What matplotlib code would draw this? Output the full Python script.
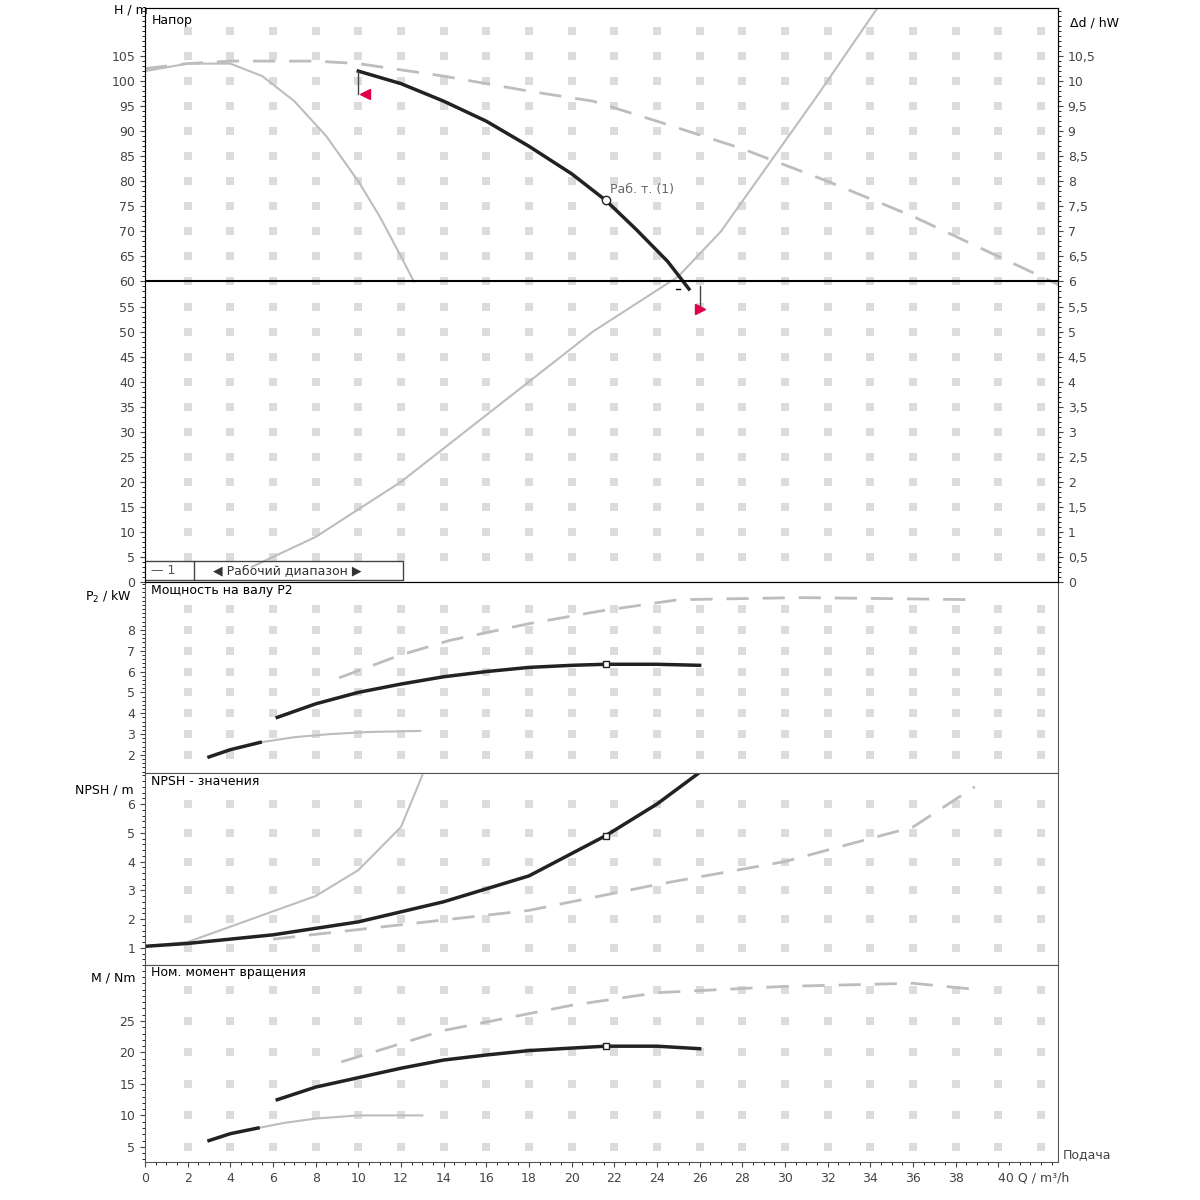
import matplotlib.pyplot as plt
from matplotlib.ticker import MultipleLocator
import numpy as np

# --- data (Q in m3/h) ---
q_head = [10, 12, 14, 16, 18, 20, 21.6, 23, 24.5, 25.5]
h_head = [102, 99.5, 96, 92, 87, 81.5, 76.2, 70.5, 64, 58.5]
q_head_max = [0, 2, 4, 6, 8, 10, 14, 18, 21, 24, 28, 32, 36, 40, 43]
h_head_max = [102.5, 103.5, 104, 104, 104, 103.5, 101, 98, 96, 92, 86.5, 80, 73, 65, 59]
q_head_min = [0, 2, 4, 5.5, 7, 8.5, 10, 11, 12, 12.6]
h_head_min = [102, 103.5, 103.5, 101, 96, 89, 80, 73, 65, 60]
q_sys = [5, 8, 12, 15, 18, 21, 23, 25, 27, 29, 31.5, 34.4]
h_sys = [3, 9, 20, 30, 40, 50, 55.5, 61, 70, 82, 97, 115]
h_line = 60
q_op, h_op = 21.6, 76.2

q_p2 = [6.2, 8, 10, 12, 14, 16, 18, 20, 21.6, 24, 26]
p2 = [3.8, 4.45, 5.0, 5.4, 5.75, 6.0, 6.2, 6.3, 6.35, 6.35, 6.3]
q_p2_max = [9.1, 12, 14.3, 18, 21.3, 25, 30.7, 35, 38.9]
p2_max = [5.7, 6.8, 7.5, 8.3, 8.9, 9.45, 9.55, 9.5, 9.45]
q_p2_min = [3, 4, 5.4, 7, 8.7, 10.5, 12.9]
p2_min = [1.9, 2.25, 2.6, 2.85, 3.0, 3.1, 3.15]

q_npsh = [0, 2, 6, 10, 14, 18, 21.6, 24, 26]
npsh = [1.05, 1.15, 1.45, 1.9, 2.6, 3.5, 4.9, 6.0, 7.1]
q_npsh_max = [6, 12, 18, 24, 30, 34, 36, 38.9]
npsh_max = [1.3, 1.8, 2.3, 3.2, 4.0, 4.8, 5.2, 6.6]
q_npsh_min = [0, 2, 5, 8, 10, 12, 13]
npsh_min = [1.05, 1.2, 2.0, 2.8, 3.7, 5.2, 7.0]

q_m = [6.2, 8, 10, 12, 14, 16, 18, 20, 21.6, 24, 26]
m = [12.5, 14.5, 16, 17.5, 18.8, 19.6, 20.3, 20.7, 21, 21, 20.6]
q_m_max = [9.2, 14, 20, 24, 30, 36, 39]
m_max = [18.5, 23.5, 27.5, 29.5, 30.5, 31, 30]
q_m_min = [3, 4, 5.3, 6.5, 8, 10, 13]
m_min = [6, 7.1, 8, 8.8, 9.5, 10, 10]

x_ticks = list(range(0, 42, 2))
x_labels = [str(v) for v in x_ticks[:-1]] + ['40 Q / m³/h']

GRAY = '#bdbdbd'
fig = plt.figure(figsize=(12, 12), dpi=100)
L, R = 145 / 1200, 1058 / 1200
def ax_at(top, bot):
    return fig.add_axes([L, 1 - bot / 1200, R - L, (bot - top) / 1200])

ax1 = ax_at(8, 582)
ax2 = ax_at(582, 773)
ax3 = ax_at(773, 965)
ax4 = ax_at(965, 1162)
axes = [ax1, ax2, ax3, ax4]
xmax = 42.8

def grid_dots(ax, ylo, yhi, ystep):
    xs, ys = np.meshgrid(np.arange(2, xmax, 2), np.arange(ylo, yhi, ystep))
    ax.scatter(xs.ravel(), ys.ravel(), marker='s', s=36, color='#dcdcdc', lw=0, zorder=0)

# head
ax1.set_ylim(0, 114.6)
grid_dots(ax1, 5, 114, 5)
ax1.plot(q_head_max, h_head_max, color=GRAY, lw=2, ls=(0, (8, 5)))
ax1.plot(q_head_min, h_head_min, color=GRAY, lw=1.5)
ax1.plot(q_sys, h_sys, color=GRAY, lw=1.5)
ax1.plot(q_head, h_head, color='#222222', lw=2.5)
ax1.axhline(h_line, color='black', lw=1.5)
ax1.plot([q_op], [h_op], 'o', mfc='white', mec='#222222', ms=6)
ax1.text(q_op + 0.2, h_op + 1.5, 'Раб. т. (1)', fontsize=9, color='#666666')
ax1.plot([10, 10], [102, 97.5], color='#444444', lw=1)
ax1.plot([10.3], [97.5], marker='<', color='#e0004a', ms=7)
ax1.plot([26, 26], [59, 54.5], color='#444444', lw=1)
ax1.plot([26], [54.5], marker='>', color='#e0004a', ms=7)
ax1.plot([24.9, 25.1], [58.5, 58.5], color='black', lw=1)
ax1.text(0.3, 113.5, 'Напор', fontsize=9, va='top')
ax1.set_ylabel('H / m', rotation=0, fontsize=9)
ax1.yaxis.set_label_coords(-0.015, 0.985)
ax1.set_yticks(range(0, 110, 5))
ax1.yaxis.set_minor_locator(MultipleLocator(1))
# legend strip
ax1.plot([0, 12.1, 12.1, 0], [4.2, 4.2, 0.3, 0.3], color='#444444', lw=1)
ax1.plot([2.3, 2.3], [0.3, 4.2], color='#444444', lw=1)
ax1.text(0.3, 2.2, '— 1', fontsize=9, va='center', color='#555555')
ax1.text(3.2, 2.2, '◀ Рабочий диапазон ▶', fontsize=9, va='center', color='#333333')
axr = ax1.twinx()
axr.set_ylim(0, 114.6 / 10)
axr.set_yticks(np.arange(0, 11, 0.5))
axr.set_yticklabels(['0' if v == 0 else ('%g' % v).replace('.', ',') for v in np.arange(0, 11, 0.5)])
axr.yaxis.set_minor_locator(MultipleLocator(0.1))
axr.set_ylabel('Δd / hW', rotation=0, fontsize=9)
axr.yaxis.set_label_coords(1.04, 0.985)
axr.tick_params(labelsize=9, colors='#444444')

# power
ax2.set_ylim(1.13, 10.3)
grid_dots(ax2, 2, 10, 1)
ax2.plot(q_p2_max, p2_max, color=GRAY, lw=2, ls=(0, (8, 5)))
ax2.plot(q_p2_min[2:], p2_min[2:], color=GRAY, lw=1.5)
ax2.plot(q_p2_min[:3], p2_min[:3], color='#222222', lw=2.5)
ax2.plot(q_p2, p2, color='#222222', lw=2.5)
ax2.plot([q_op], [6.35], 's', mfc='white', mec='#222222', ms=5)
ax2.set_yticks(range(2, 9))
ax2.yaxis.set_minor_locator(MultipleLocator(0.2))
ax2.text(0.3, 10.2, 'Мощность на валу P2', fontsize=9, va='top')
ax2.set_ylabel('P$_2$ / kW', rotation=0, fontsize=9)
ax2.yaxis.set_label_coords(-0.04, 0.88)

# npsh
ax3.set_ylim(0.4, 7.08)
grid_dots(ax3, 1, 7, 1)
ax3.plot(q_npsh_max, npsh_max, color=GRAY, lw=2, ls=(0, (8, 5)))
ax3.plot(q_npsh_min, npsh_min, color=GRAY, lw=1.5)
ax3.plot(q_npsh, npsh, color='#222222', lw=2.5)
ax3.plot([q_op], [4.9], 's', mfc='white', mec='#222222', ms=5)
ax3.set_yticks(range(1, 7))
ax3.yaxis.set_minor_locator(MultipleLocator(0.2))
ax3.text(0.3, 7.0, 'NPSH - значения', fontsize=9, va='top')
ax3.set_ylabel('NPSH / m', rotation=0, fontsize=9)
ax3.yaxis.set_label_coords(-0.045, 0.88)

# torque
ax4.set_ylim(2.6, 33.9)
grid_dots(ax4, 5, 33, 5)
ax4.plot(q_m_max, m_max, color=GRAY, lw=2, ls=(0, (8, 5)))
ax4.plot(q_m_min[2:], m_min[2:], color=GRAY, lw=1.5)
ax4.plot(q_m_min[:3], m_min[:3], color='#222222', lw=2.5)
ax4.plot(q_m, m, color='#222222', lw=2.5)
ax4.plot([q_op], [21], 's', mfc='white', mec='#222222', ms=5)
ax4.set_yticks(range(5, 30, 5))
ax4.yaxis.set_minor_locator(MultipleLocator(1))
ax4.text(0.3, 33.7, 'Ном. момент вращения', fontsize=9, va='top')
ax4.set_ylabel('M / Nm', rotation=0, fontsize=9)
ax4.yaxis.set_label_coords(-0.035, 0.9)

for ax in axes:
    ax.set_xlim(0, xmax)
    ax.set_xticks(x_ticks)
    ax.xaxis.set_minor_locator(MultipleLocator(0.5))
    ax.tick_params(labelsize=9, colors='#444444')
    for s in ax.spines.values():
        s.set_color('#555555')
    if ax is not ax4:
        ax.tick_params(axis='x', which='both', bottom=False, labelbottom=False)
ax4.set_xticklabels(x_labels)
last = ax4.get_xticklabels()[-1]
last.set_horizontalalignment('left')
last.set_x(39.8)
ax4.text(1.005, 0.02, 'Подача', transform=ax4.transAxes, fontsize=9, color='#444444')

fig.savefig('out.png', dpi=100)
